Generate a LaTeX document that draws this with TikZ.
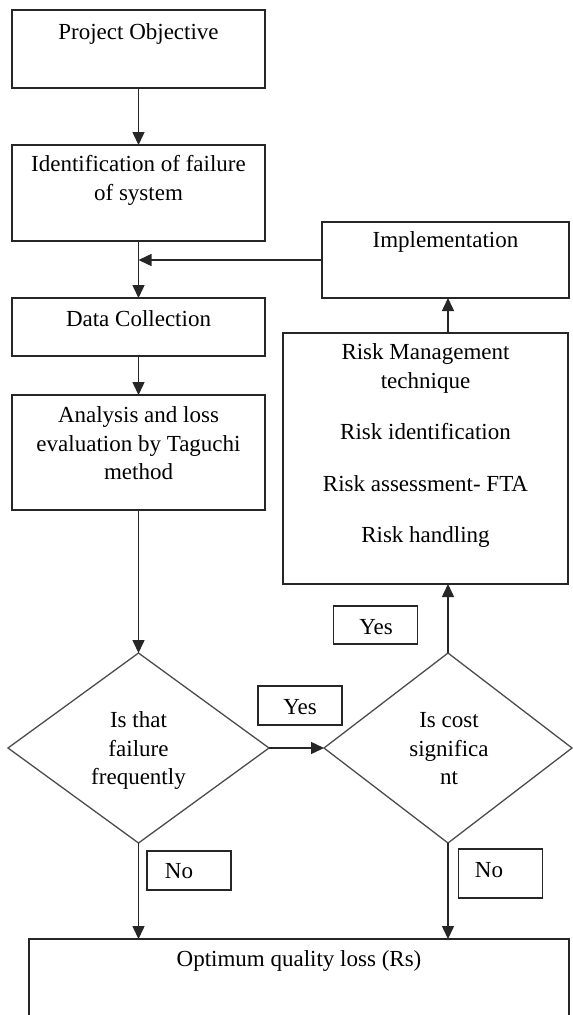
\documentclass[tikz,border=0pt]{standalone}
\usepackage{fontspec}
\setmainfont{Liberation Serif}
\usetikzlibrary{arrows.meta,shapes.geometric}

\tikzset{
  every node/.style={inner sep=0pt, outer sep=0pt},
  stepbox/.style={draw=black!85, line width=1.5pt, rectangle, minimum width=#1},
  decision/.style={draw=black!70, line width=1.3pt, diamond, minimum width=#1, minimum height=190pt},
  tag/.style={draw=black!85, line width=1.5pt, rectangle, minimum width=84pt},
  txt/.style={font=\fontsize{23}{28.5}\selectfont, align=center, anchor=north},
  word/.style={font=\fontsize{23}{28.5}\selectfont, anchor=base},
  flow/.style={draw=black!85, line width=1.5pt, -{Triangle[length=13pt,width=12pt]}},
}

\begin{document}
\begin{tikzpicture}[x=1pt, y=-1pt]
  \clip (0,0) rectangle (573,1015);

  % left column of process boxes
  \node[stepbox=253pt, minimum height=78pt]  (obj)  at (138.5,49)    {};
  \node[stepbox=253pt, minimum height=96pt]  (ident) at (138.5,193)  {};
  \node[stepbox=253pt, minimum height=58pt]  (data) at (138.5,327)   {};
  \node[stepbox=253pt, minimum height=115pt] (ana)  at (138.5,452.5) {};

  \node[txt] (objT)   at (138.5,19.05) {\strut Project Objective};
  \node[txt] (identT) at (138.5,152)   {\strut Identification of failure\\of system};
  \node[txt] (dataT)  at (138.5,307)   {\strut Data Collection};
  \node[txt] (anaT)   at (138.5,403)   {\strut Analysis and loss\\evaluation by Taguchi\\method};

  % right column
  \node[stepbox=247pt, minimum height=76pt]  (impl) at (445.5,260)   {};
  \node[stepbox=285pt, minimum height=251pt] (risk) at (425.5,458.5) {};

  \node[txt] (implT) at (445.5,228) {\strut Implementation};
  \node[txt] (riskT) at (425.5,340) {\strut Risk Management\\technique\\[23pt]Risk identification\\[23pt]Risk assessment- FTA\\[23pt]Risk handling};

  % decisions
  \node[decision=261pt] (d1) at (138.5,748) {};
  \node[decision=248pt] (d2) at (448,748)   {};

  \node[txt] (d1T) at (138.5,708) {\strut Is that\\failure\\frequently};
  \node[txt] (d2T) at (449,708)   {\strut Is cost\\significa\\nt};

  % final box
  \node[stepbox=540pt, minimum height=96pt] (opt) at (299,987) {};
  \node[word] (optT) at (299,966) {Optimum quality loss (Rs)};

  % answer tags
  \node[tag, minimum height=39pt] (yes1) at (300,705.5)   {};
  \node[tag, minimum height=38pt] (yes2) at (375.5,625)   {};
  \node[tag, minimum height=39pt] (no1)  at (189,870.5)   {};
  \node[tag, minimum height=49pt] (no2)  at (500.5,873.5) {};

  \node[word] (yes1T) at (300,714)   {Yes};
  \node[word] (yes2T) at (376,634)   {Yes};
  \node[word] (no1T)  at (179,878)   {No};
  \node[word] (no2T)  at (489,877)   {No};

  % connectors
  \draw[flow] (obj.south) -- (ident.north);
  \draw[flow] (ident.south) -- (data.north);
  \draw[flow] (data.south) -- (ana.north);
  \draw[flow] (ana.south) -- (d1.north);
  \draw[flow] (d1.east) -- (d2.west);
  \draw[flow] (d1.south) -- (d1.south |- opt.north);
  \draw[flow] (d2.south) -- (d2.south |- opt.north);
  \draw[flow] (d2.north) -- (d2.north |- risk.south);
  \draw[flow] (d2.north |- risk.north) -- (d2.north |- impl.south);
  \draw[flow] (impl.west) -- (impl.west -| ident.south);
\end{tikzpicture}
\end{document}
